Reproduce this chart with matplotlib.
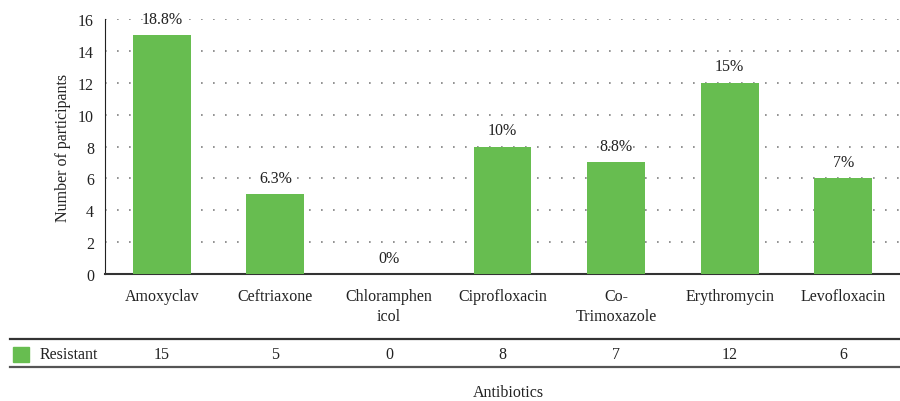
import matplotlib.pyplot as plt
from matplotlib.lines import Line2D
from matplotlib.patches import Rectangle

plt.rcParams['font.family'] = ['Liberation Serif', 'DejaVu Serif']

antibiotics = ['Amoxyclav', 'Ceftriaxone', 'Chloramphen\nicol', 'Ciprofloxacin',
               'Co-\nTrimoxazole', 'Erythromycin', 'Levofloxacin']
resistant = [15, 5, 0, 8, 7, 12, 6]
pct_labels = ['18.8%', '6.3%', '0%', '10%', '8.8%', '15%', '7%']
series_name = 'Resistant'

bar_color = '#67BD50'
text_color = '#222222'
fs = 11.5

fig = plt.figure(figsize=(9, 4.02), dpi=100)
ax = fig.add_axes([0.1167, 0.3159, 0.8833, 0.6343])

x = list(range(len(antibiotics)))
bars = ax.bar(x, resistant, width=0.51, color=bar_color, zorder=3)

for xi, v, lab in zip(x, resistant, pct_labels):
    ax.annotate(lab, (xi, v), xytext=(0, 6), textcoords='offset points',
                ha='center', va='bottom', fontsize=fs, color=text_color)

ax.set_xlim(-0.5, len(antibiotics) - 0.5)
ax.set_ylim(0, 16)
ax.set_yticks(range(0, 17, 2))
ax.yaxis.grid(True, linestyle=(0, (1, 6.2)), color='#808080', linewidth=1.2, zorder=0)
ax.tick_params(axis='y', length=0, labelsize=fs, colors=text_color, pad=8)
ax.tick_params(axis='x', length=0, labelsize=fs, colors=text_color, pad=10)
ax.set_xticks(x)
ax.set_xticklabels(antibiotics, linespacing=1.35)
for s in ['top', 'right']:
    ax.spines[s].set_visible(False)
ax.spines['left'].set_color('#222222')
ax.spines['bottom'].set_color('#333333')
ax.spines['bottom'].set_linewidth(1.5)
ax.set_ylabel('Number of participants', fontsize=fs, color=text_color, labelpad=5)

# data table under the chart
def fy(py):
    return 1 - py / 402

fig.add_artist(Line2D([10 / 900, 1], [fy(340), fy(340)], color='#333333', lw=1.6))
fig.add_artist(Line2D([10 / 900, 1], [fy(368), fy(368)], color='#555555', lw=1.6))
fig.add_artist(Rectangle((13 / 900, fy(363)), 16 / 900, 15 / 402,
                         color=bar_color, transform=fig.transFigure))
fig.text(40 / 900, fy(355), series_name, ha='left', va='center',
         fontsize=fs, color=text_color)
trans = ax.get_xaxis_transform()
for xi, v in zip(x, resistant):
    ax.text(xi, (275 - 355) / 255, str(v), transform=trans, ha='center',
            va='center', fontsize=fs, color=text_color, clip_on=False)

fig.text(508 / 900, fy(393), 'Antibiotics', ha='center', va='center',
         fontsize=fs, color=text_color)

fig.savefig('out.png', dpi=100)
